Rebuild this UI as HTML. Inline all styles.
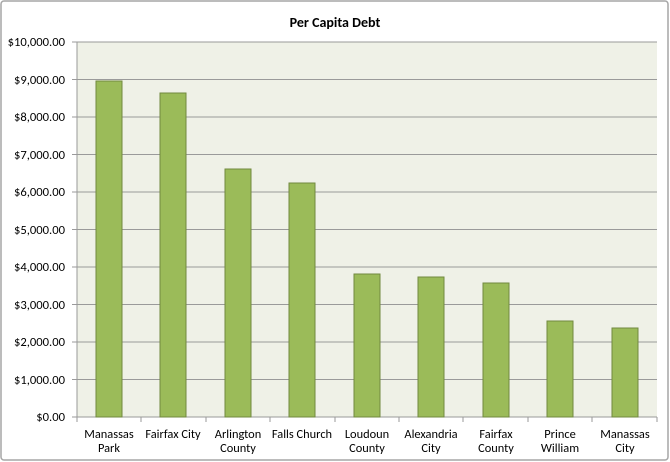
<!DOCTYPE html>
<html><head><style>body{margin:0;background:#fff}svg{display:block}</style></head><body>
<svg width="670" height="462" xmlns="http://www.w3.org/2000/svg" font-family="Calibri, 'Liberation Sans', sans-serif">
<rect x="1" y="1" width="667" height="459" fill="#fff" stroke="#a6a6a6" stroke-width="1.5" rx="3"/>
<text x="335" y="27" text-anchor="middle" font-size="14" font-weight="bold">Per Capita Debt</text>
<rect x="77" y="42" width="580" height="375" fill="#eff1e7"/>
<g stroke="#9a9a9a" stroke-width="1">
<line x1="72" y1="42" x2="657" y2="42"/><line x1="72" y1="79.5" x2="657" y2="79.5"/><line x1="72" y1="117" x2="657" y2="117"/><line x1="72" y1="154.5" x2="657" y2="154.5"/><line x1="72" y1="192" x2="657" y2="192"/><line x1="72" y1="229.5" x2="657" y2="229.5"/><line x1="72" y1="267" x2="657" y2="267"/><line x1="72" y1="304.5" x2="657" y2="304.5"/><line x1="72" y1="342" x2="657" y2="342"/><line x1="72" y1="379.5" x2="657" y2="379.5"/><line x1="72" y1="417" x2="657" y2="417"/>
<line x1="77" y1="42" x2="77" y2="417"/>
</g>
<g fill="#9bbb59" stroke="#71893f" stroke-width="1">
<rect x="96" y="81" width="26" height="336"/>
<rect x="160" y="93" width="26" height="324"/>
<rect x="225" y="169" width="26" height="248"/>
<rect x="289" y="183" width="26" height="234"/>
<rect x="354" y="274" width="26" height="143"/>
<rect x="418" y="277" width="26" height="140"/>
<rect x="483" y="283" width="26" height="134"/>
<rect x="547" y="321" width="26" height="96"/>
<rect x="612" y="328" width="26" height="89"/>
</g>
<g stroke="#9a9a9a"><line x1="77" y1="417" x2="77" y2="422"/><line x1="141" y1="417" x2="141" y2="422"/><line x1="206" y1="417" x2="206" y2="422"/><line x1="270" y1="417" x2="270" y2="422"/><line x1="335" y1="417" x2="335" y2="422"/><line x1="399" y1="417" x2="399" y2="422"/><line x1="463" y1="417" x2="463" y2="422"/><line x1="528" y1="417" x2="528" y2="422"/><line x1="592" y1="417" x2="592" y2="422"/><line x1="657" y1="417" x2="657" y2="422"/></g>
<g font-size="12.6" text-anchor="end" fill="#000">
<text x="65" y="46">$10,000.00</text><text x="65" y="84">$9,000.00</text><text x="65" y="121">$8,000.00</text><text x="65" y="159">$7,000.00</text><text x="65" y="196">$6,000.00</text><text x="65" y="234">$5,000.00</text><text x="65" y="271">$4,000.00</text><text x="65" y="309">$3,000.00</text><text x="65" y="346">$2,000.00</text><text x="65" y="384">$1,000.00</text><text x="65" y="421">$0.00</text>
</g>
<g font-size="12.4" text-anchor="middle" fill="#000">
<text x="109" y="438">Manassas</text><text x="109" y="452">Park</text>
<text x="173" y="438">Fairfax City</text>
<text x="238" y="438">Arlington</text><text x="238" y="452">County</text>
<text x="302" y="438">Falls Church</text>
<text x="367" y="438">Loudoun</text><text x="367" y="452">County</text>
<text x="431" y="438">Alexandria</text><text x="431" y="452">City</text>
<text x="496" y="438">Fairfax</text><text x="496" y="452">County</text>
<text x="560" y="438">Prince</text><text x="560" y="452">William</text>
<text x="625" y="438">Manassas</text><text x="625" y="452">City</text>
</g>
</svg>
</body></html>
